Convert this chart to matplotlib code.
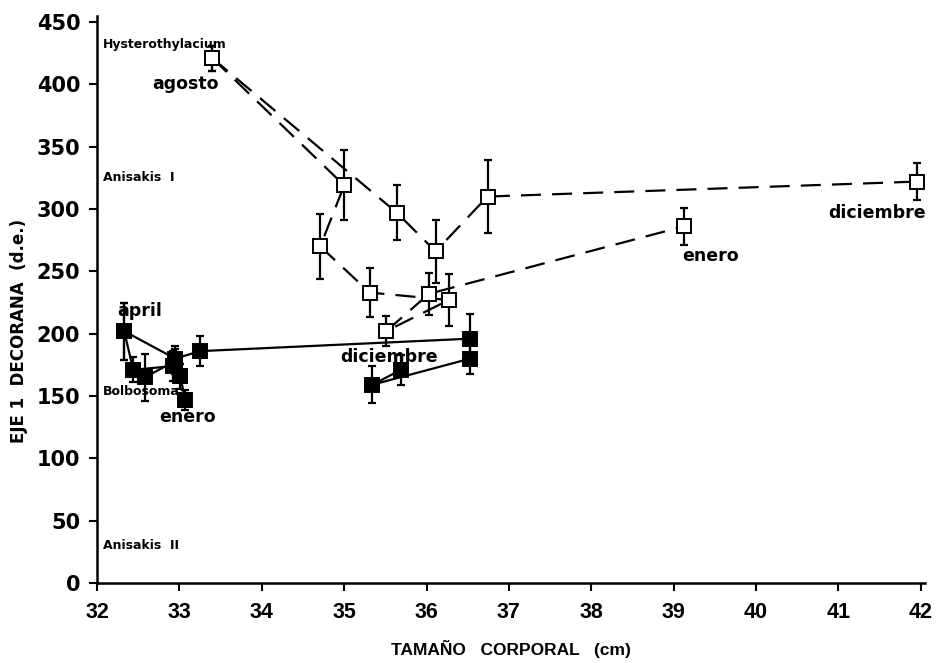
import matplotlib
matplotlib.use("Agg")
import matplotlib.pyplot as plt

# --- open squares: two dashed trajectories starting in August ---
open_a_x = [33.40, 35.64, 36.11, 36.74, 41.95]
open_a_y = [421, 297, 266, 310, 322]
open_a_err = [10, 22, 25, 29, 15]

open_b_x = [33.40, 35.00, 34.71, 35.31, 36.27, 35.51, 36.03, 39.12]
open_b_y = [421, 319, 270, 233, 227, 202, 232, 286]
open_b_err = [10, 28, 26, 20, 21, 12, 17, 15]

# --- filled squares: solid trajectories ---
filled_a_x = [32.33, 32.95, 33.25, 36.53]
filled_a_y = [202, 180, 186, 196]
filled_a_err = [23, 10, 12, 20]

filled_b_x = [32.33, 32.44, 32.92, 33.01, 33.07]
filled_b_y = [202, 171, 174, 166, 147]
filled_b_err = [23, 10, 12, 10, 8]

filled_c_x = [32.58, 32.95]
filled_c_y = [165, 178]
filled_c_err = [19, 10]

filled_d_x = [36.53, 35.34, 35.69]
filled_d_y = [180, 159, 171]
filled_d_err = [12, 15, 12]

x_ticks = [32, 33, 34, 35, 36, 37, 38, 39, 40, 41, 42]
y_ticks = [0, 50, 100, 150, 200, 250, 300, 350, 400, 450]

# annotation labels: (text, x, y, size)
month_labels = [
    ("agosto", 32.67, 400, 12.5),
    ("april", 32.25, 218, 12.5),
    ("enero", 32.76, 133, 12.5),
    ("diciembre", 34.95, 181, 12.5),
    ("enero", 39.10, 262, 12.5),
    ("diciembre", 40.87, 297, 12.5),
]
group_labels = [
    ("Hysterothylacium", 32.07, 432),
    ("Anisakis  I", 32.07, 325),
    ("Bolbosoma", 32.07, 154),
    ("Anisakis  II", 32.07, 30),
]

fig = plt.figure(figsize=(9.48, 6.63), dpi=100)
ax = fig.add_axes([97 / 948, 80 / 663, 828 / 948, 567.2 / 663])

LW = 1.6
MS = 10


def draw_series(xs, ys, errs, filled, dashed):
    line_kw = dict(color="black", lw=LW, zorder=2)
    if dashed:
        ax.plot(xs, ys, dashes=(9, 5), **line_kw)
    else:
        ax.plot(xs, ys, **line_kw)
    ax.errorbar(xs, ys, yerr=errs, fmt="none", ecolor="black",
                elinewidth=LW, capsize=3, capthick=LW, zorder=3)
    ax.plot(xs, ys, ls="none", marker="s", ms=MS,
            mfc="black" if filled else "white", mec="black",
            mew=1.4, zorder=4)


draw_series(open_a_x, open_a_y, open_a_err, filled=False, dashed=True)
draw_series(open_b_x, open_b_y, open_b_err, filled=False, dashed=True)
draw_series(filled_a_x, filled_a_y, filled_a_err, filled=True, dashed=False)
draw_series(filled_b_x, filled_b_y, filled_b_err, filled=True, dashed=False)
draw_series(filled_c_x, filled_c_y, filled_c_err, filled=True, dashed=False)
draw_series(filled_d_x, filled_d_y, filled_d_err, filled=True, dashed=False)

for text, x, y, size in month_labels:
    ax.text(x, y, text, fontsize=size, fontweight="bold",
            family="DejaVu Sans", ha="left", va="center", zorder=5)
for text, x, y in group_labels:
    ax.text(x, y, text, fontsize=9, fontweight="bold",
            family="DejaVu Sans", ha="left", va="center", zorder=3)

ax.set_xlim(32, 42.05)
ax.set_ylim(0, 455)
ax.set_xticks(x_ticks)
ax.set_yticks(y_ticks)
ax.set_xticklabels([str(t) for t in x_ticks], fontsize=15.5, fontweight="bold",
                   family=["Liberation Sans Narrow", "Liberation Sans"])
ax.set_yticklabels([str(t) for t in y_ticks], fontsize=15, fontweight="bold",
                   family="DejaVu Sans")

for side in ("top", "right"):
    ax.spines[side].set_visible(False)
for side in ("left", "bottom"):
    ax.spines[side].set_linewidth(1.8)
ax.tick_params(axis="both", direction="out", length=6, width=1.5)
ax.tick_params(axis="x", pad=8)
ax.tick_params(axis="y", pad=6)

ax.set_xlabel("TAMAÑO   CORPORAL   (cm)", fontsize=12.5, fontweight="bold",
              family=["Liberation Sans Narrow", "Liberation Sans"], labelpad=12)
ax.set_ylabel("EJE 1  DECORANA  (d.e.)", fontsize=12, fontweight="bold",
              family="DejaVu Sans")
ax.yaxis.set_label_coords(-0.083, 0.445)

fig.savefig("out.png", dpi=100, facecolor="white")
